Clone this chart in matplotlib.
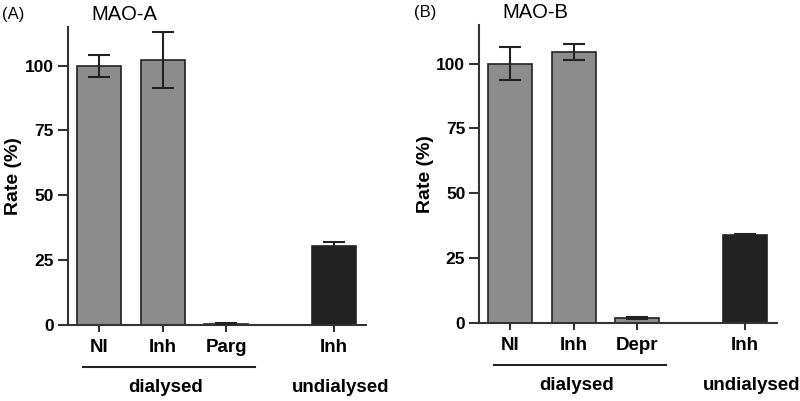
"""
MAO-A / MAO-B activity after dialysis (two-panel bar chart)
"""
import matplotlib.pyplot as plt
import matplotlib.transforms as mtransforms

plt.rcParams['font.family'] = ['Liberation Sans', 'DejaVu Sans']
plt.rcParams['font.size'] = 12

# Data
positions = [0, 1, 2, 3.7]
labels_a = ["NI", "Inh", "Parg", "Inh"]
labels_b = ["NI", "Inh", "Depr", "Inh"]
rate_a = [100, 102.2, 0.5, 30.3]
err_a = [4.2, 10.8, 0.2, 1.7]
rate_b = [100, 104.5, 1.8, 33.8]
err_b = [6.4, 3.1, 0.5, 0.4]
bar_colors = ['#8c8c8c', '#8c8c8c', '#8c8c8c', '#222222']
y_ticks = [0, 25, 50, 75, 100]


def draw_panel(ax, rates, errs, labels, title, tag):
    ax.bar(positions, rates, width=0.69, color=bar_colors,
           edgecolor='#222222', linewidth=1.2, zorder=2)
    ax.errorbar(positions, rates, yerr=errs, fmt='none', ecolor='#222222',
                elinewidth=1.5, capsize=8, capthick=1.5, zorder=3)
    ax.set_xlim(-0.49, 4.2)
    ax.set_ylim(0, 115)
    ax.set_yticks(y_ticks)
    ax.set_xticks(positions)
    ax.set_xticklabels(labels, fontweight='bold', fontsize=13.5)
    for lbl in ax.get_yticklabels():
        lbl.set_fontweight('bold')
        lbl.set_fontsize(12.5)
    ax.set_ylabel("Rate (%)", fontweight='bold', fontsize=14, labelpad=2)
    ax.spines['top'].set_visible(False)
    ax.spines['right'].set_visible(False)
    ax.spines['left'].set_linewidth(1.5)
    ax.spines['bottom'].set_linewidth(1.5)
    ax.spines['left'].set_color('#333333')
    ax.spines['bottom'].set_color('#333333')
    ax.tick_params(axis='y', length=7, width=1.5, color='#333333', pad=3)
    ax.tick_params(axis='x', length=5, width=1.5, color='#333333', pad=5)

    # group line and group names under the axis
    trans = mtransforms.blended_transform_factory(ax.transData, ax.transAxes)
    ax.plot([positions[0] - 0.25, positions[2] + 0.45], [-0.14, -0.14],
            color='#222222', linewidth=1.5, transform=trans, clip_on=False)
    ax.text(1.05, -0.21, "dialysed", transform=trans, ha='center', va='center',
            fontsize=13.5, fontweight='bold')
    ax.text(positions[3] + 0.1, -0.21, "undialysed", transform=trans,
            ha='center', va='center', fontsize=13.5, fontweight='bold')

    ax.text(0.19, 1.04, title, transform=ax.transAxes, ha='center',
            va='center', fontsize=14.5, fontweight='medium')
    ax.text(-0.22, 1.04, tag, transform=ax.transAxes, ha='left',
            va='center', fontsize=12)


fig = plt.figure(figsize=(8, 4.01), dpi=100)
ax_a = fig.add_axes([0.085, 0.19, 0.3725, 0.743])
ax_b = fig.add_axes([0.599, 0.195, 0.372, 0.743])

draw_panel(ax_a, rate_a, err_a, labels_a, "MAO-A", "(A)")
draw_panel(ax_b, rate_b, err_b, labels_b, "MAO-B", "(B)")

fig.savefig("out.png", dpi=100)
